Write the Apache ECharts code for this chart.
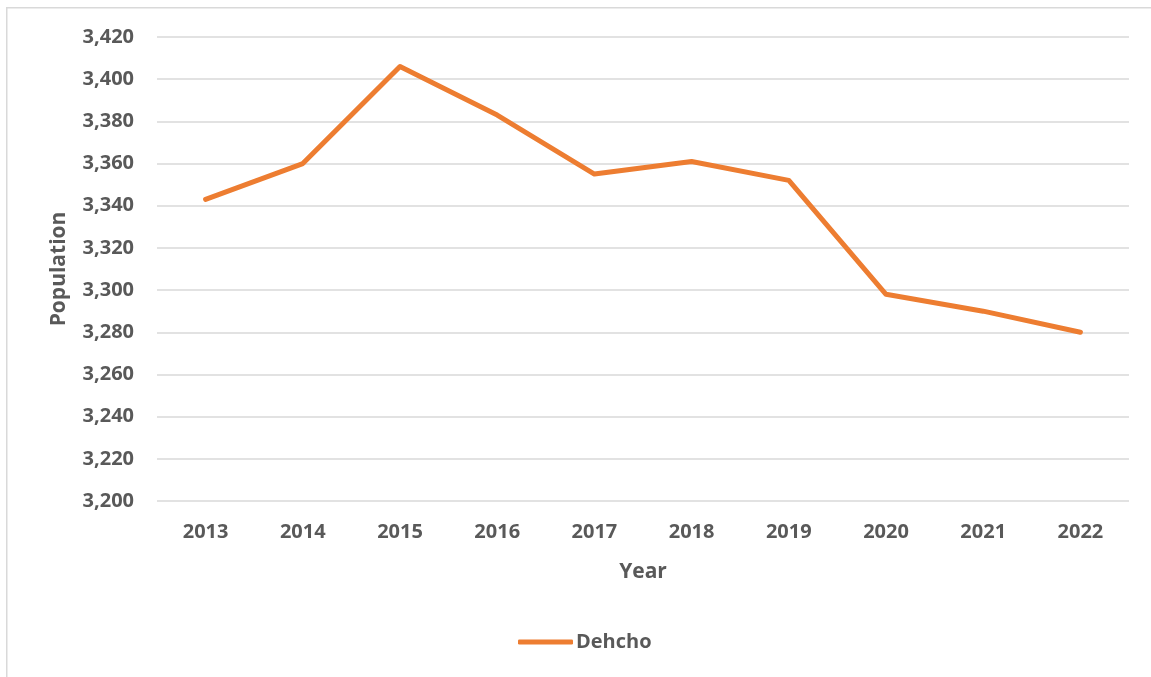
<!DOCTYPE html>
<html>
<head>
<meta charset="utf-8">
<script src="https://cdn.jsdelivr.net/npm/echarts@6/dist/echarts.min.js"></script>
<style>
html,body{margin:0;padding:0;background:#fff;}
#chart{width:1151px;height:677px;}
</style>
</head>
<body>
<div id="chart"></div>
<script>
const years = ['2013','2014','2015','2016','2017','2018','2019','2020','2021','2022'];
const dehcho = [3343, 3360, 3406, 3383, 3355, 3361, 3352, 3298, 3290, 3280];
const seriesName = 'Dehcho';
const yMin = 3200, yMax = 3420, yStep = 20;

const chart = echarts.init(document.getElementById('chart'));
const font = '"Open Sans", "Liberation Sans", sans-serif';
chart.setOption({
  animation: false,
  backgroundColor: '#fff',
  graphic: [{
    type: 'rect', left: 6, top: 7, z: -1,
    shape: {width: 1160, height: 700},
    style: {fill: '#fff', stroke: '#d9d9d9', lineWidth: 1.5}
  }],
  grid: {left: 157, right: 22, top: 37, bottom: 176, containLabel: false},
  legend: {
    data: [seriesName], top: 632, left: 518, padding: 0,
    itemWidth: 55, itemHeight: 5, itemGap: 4,
    icon: 'roundRect',
    textStyle: {color: '#595959', fontSize: 20, fontWeight: 'bold', fontFamily: font, padding: [0,0,0,-2]}
  },
  xAxis: {
    type: 'category', data: years, boundaryGap: true,
    name: 'Year', nameLocation: 'middle', nameGap: 61,
    nameTextStyle: {color: '#595959', fontSize: 21, fontWeight: 'bold', fontFamily: font},
    axisLine: {show: false}, axisTick: {show: false},
    axisLabel: {color: '#595959', fontSize: 20, fontWeight: 'bold', fontFamily: font, margin: 21}
  },
  yAxis: {
    type: 'value', min: yMin, max: yMax, interval: yStep,
    name: 'Population', nameLocation: 'middle', nameGap: 87, nameRotate: 90,
    nameTextStyle: {color: '#595959', fontSize: 21, fontWeight: 'bold', fontFamily: font},
    axisLine: {show: false}, axisTick: {show: false},
    axisLabel: {color: '#595959', fontSize: 20, fontWeight: 'bold', fontFamily: font, margin: 23,
      formatter: v => v.toLocaleString('en-US')},
    splitLine: {lineStyle: {color: '#d9d9d9', width: 1.5}}
  },
  series: [{
    name: seriesName, type: 'line', data: dehcho,
    symbol: 'none', smooth: false,
    lineStyle: {color: '#ED7D31', width: 5, cap: 'round', join: 'round'},
    itemStyle: {color: '#ED7D31'}
  }]
});
</script>
</body>
</html>
